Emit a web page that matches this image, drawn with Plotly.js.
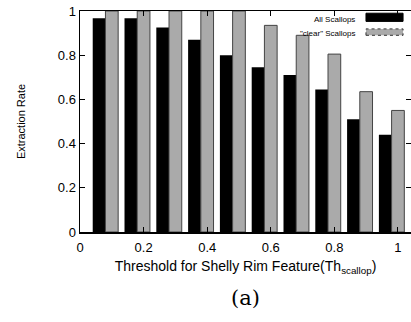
<!DOCTYPE html>
<html>
<head>
<meta charset="utf-8">
<script src="https://cdn.plot.ly/plotly-3.0.1.min.js"></script>
<style>html,body{margin:0;padding:0;background:#fff;}#chart{width:411px;height:322px;}</style>
</head>
<body>
<div id="chart"></div>
<script>
const thresholds = [0.1, 0.2, 0.3, 0.4, 0.5, 0.6, 0.7, 0.8, 0.9, 1.0];
const allScallops = [0.967, 0.967, 0.925, 0.87, 0.80, 0.745, 0.71, 0.645, 0.51, 0.44];
const clearScallops = [1.0, 1.0, 1.0, 1.0, 1.0, 0.935, 0.89, 0.805, 0.635, 0.55];
const yTicks = [0, 0.2, 0.4, 0.6, 0.8, 1];
const xTicks = [0, 0.2, 0.4, 0.6, 0.8, 1];
const legendNames = ['All Scallops', '"clear" Scallops'];

const font = '"Liberation Sans", Arial, sans-serif';

const traces = [
  {
    type: 'bar', x: thresholds, y: allScallops, name: legendNames[0],
    width: 0.04, offset: -0.06,
    marker: {color: '#000000', line: {color: '#000000', width: 0}},
    showlegend: false, hoverinfo: 'skip'
  },
  {
    type: 'bar', x: thresholds, y: clearScallops, name: legendNames[1],
    width: 0.04, offset: -0.02,
    marker: {color: '#aaaaaa', line: {color: '#444444', width: 1}},
    showlegend: false, hoverinfo: 'skip'
  }
];

const layout = {
  width: 411, height: 322,
  margin: {l: 79.5, r: 0, t: 10.7, b: 90},
  paper_bgcolor: '#ffffff', plot_bgcolor: '#ffffff',
  font: {family: font, color: '#000', size: 12},
  barmode: 'overlay',
  xaxis: {
    range: [0, 1.041], tickvals: xTicks, ticktext: xTicks.map(String),
    ticks: 'inside', ticklen: 5, tickwidth: 1, tickcolor: '#000',
    showline: true, linecolor: '#000', linewidth: 1.5, mirror: 'allticks',
    showgrid: false, zeroline: false, ticklabelstandoff: 3,
    tickfont: {size: 13, family: font},
    title: {text: 'Threshold for Shelly Rim Feature(Th<sub>scallop</sub>)', font: {size: 14, family: font}, standoff: 7}
  },
  yaxis: {
    range: [0, 1], tickvals: yTicks, ticktext: yTicks.map(String),
    ticks: 'inside', ticklen: 5, tickwidth: 1, tickcolor: '#000',
    showline: true, linecolor: '#000', linewidth: 1.5, mirror: 'allticks',
    showgrid: false, zeroline: false,
    tickfont: {size: 13, family: font},
    title: {text: 'Extraction Rate', font: {size: 11, family: font}, standoff: 30}
  },
  annotations: [
    {xref: 'paper', yref: 'paper', x: 0.838, y: 0.962, xanchor: 'right', yanchor: 'middle',
     text: legendNames[0], showarrow: false, font: {size: 8, family: font}},
    {xref: 'paper', yref: 'paper', x: 0.838, y: 0.899, xanchor: 'right', yanchor: 'middle',
     text: legendNames[1], showarrow: false, font: {size: 8, family: font}},
    {xref: 'paper', yref: 'paper', x: 0.5, y: -0.3, xanchor: 'center', yanchor: 'middle',
     text: '(a)', showarrow: false, font: {size: 21, family: '"DejaVu Serif", "Liberation Serif", serif'}}
  ],
  shapes: [
    {type: 'rect', xref: 'paper', yref: 'paper', x0: 0.864, x1: 0.976, y0: 0.953, y1: 0.99,
     fillcolor: '#000', line: {color: '#000', width: 1}},
    {type: 'rect', xref: 'paper', yref: 'paper', x0: 0.864, x1: 0.976, y0: 0.890, y1: 0.919,
     fillcolor: '#aaaaaa', line: {color: '#333', width: 1, dash: 'dot'}}
  ]
};

Plotly.newPlot('chart', traces, layout, {staticPlot: true, displayModeBar: false});
</script>
</body>
</html>
